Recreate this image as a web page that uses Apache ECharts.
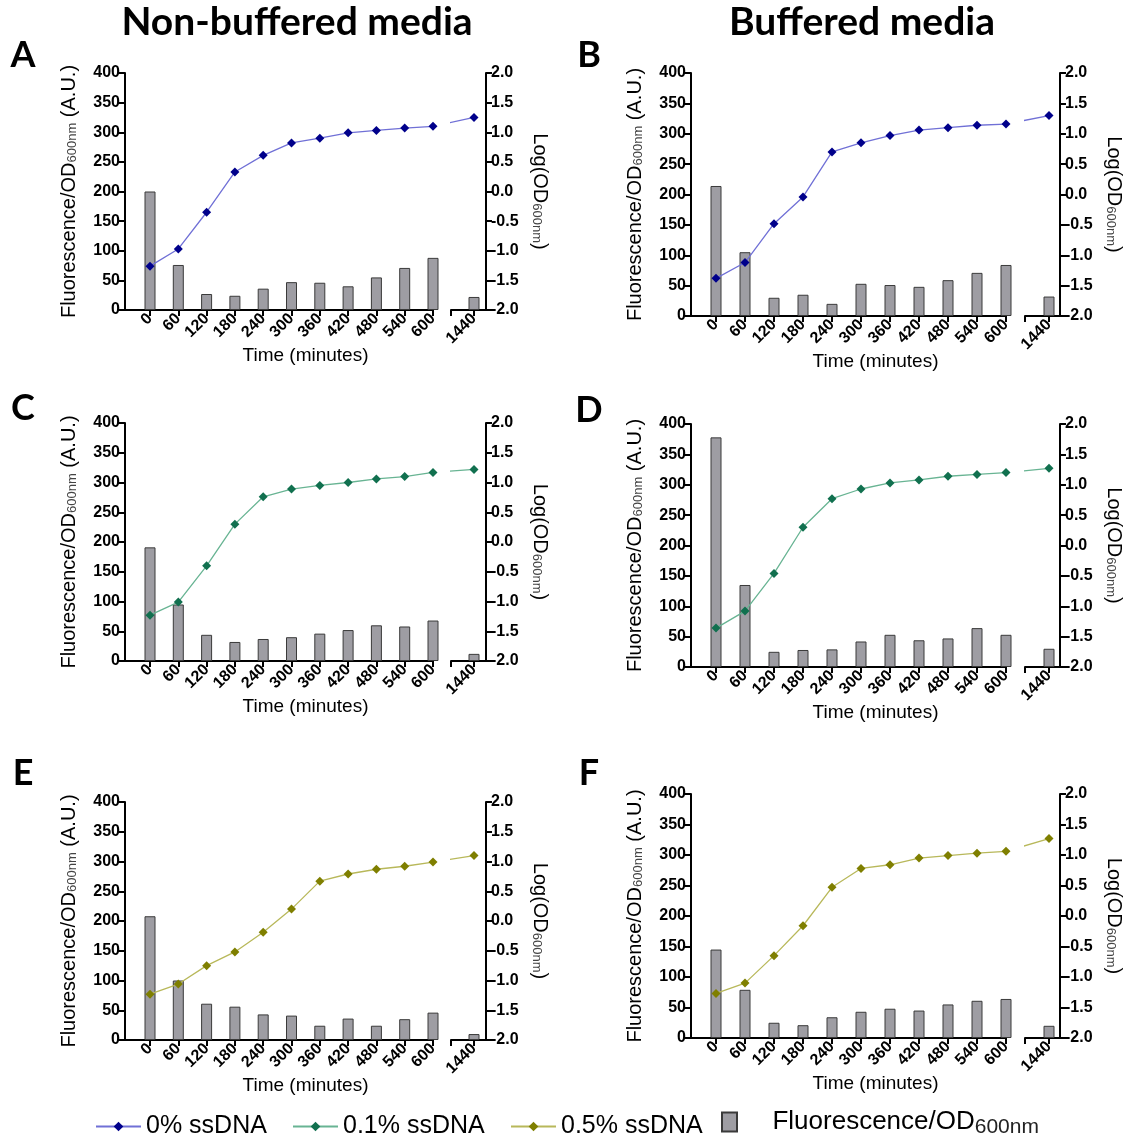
<!DOCTYPE html>
<html>
<head>
<meta charset="utf-8">
<script src="https://cdn.jsdelivr.net/npm/echarts@6/dist/echarts.min.js"></script>
<style>
html, body { margin: 0; padding: 0; background: #fff; }
#chart { width: 1128px; height: 1139px; }
</style>
</head>
<body>
<div id="chart"></div>
<script>
// Sampling times (minutes); the 1440 min point sits past an axis break
const times = [0, 60, 120, 180, 240, 300, 360, 420, 480, 540, 600];
const lateTime = 1440;

// Fluorescence/OD600nm (A.U.), 0..600 min then 1440 min
const fluorA = [200, 76, 27, 24, 36, 47, 46, 40, 55, 71, 88, 22];
const fluorB = [214, 105, 30, 35, 20, 53, 51, 48, 59, 71, 84, 32];
const fluorC = [191, 95, 44, 32, 37, 40, 46, 52, 60, 58, 68, 12];
const fluorD = [378, 135, 25, 28, 29, 42, 53, 44, 47, 64, 53, 30];
const fluorE = [208, 100, 61, 56, 43, 41, 24, 36, 24, 35, 46, 10];
const fluorF = [145, 79, 25, 21, 34, 43, 48, 45, 55, 61, 64, 20];

// Log(OD600nm), same time points
const logOdA = [-1.26, -0.97, -0.35, 0.33, 0.61, 0.82, 0.90, 0.99, 1.03, 1.07, 1.10, 1.25];
const logOdB = [-1.38, -1.12, -0.48, -0.04, 0.70, 0.85, 0.97, 1.06, 1.10, 1.14, 1.16, 1.30];
const logOdC = [-1.23, -1.01, -0.40, 0.30, 0.76, 0.89, 0.95, 1.00, 1.06, 1.10, 1.17, 1.22];
const logOdD = [-1.36, -1.08, -0.46, 0.30, 0.77, 0.93, 1.03, 1.08, 1.14, 1.17, 1.20, 1.27];
const logOdE = [-1.23, -1.06, -0.75, -0.52, -0.19, 0.20, 0.67, 0.79, 0.87, 0.92, 0.99, 1.10];
const logOdF = [-1.27, -1.10, -0.65, -0.16, 0.47, 0.78, 0.84, 0.95, 0.99, 1.03, 1.06, 1.27];

// Axis ticks
const fluorTicks = { min: 0, max: 400, step: 50 };
const logTicks = { min: -2, max: 2, step: 0.5 };

// Text
const columnTitles = ['Non-buffered media', 'Buffered media'];
const seriesNames = ['0% ssDNA', '0.1% ssDNA', '0.5% ssDNA'];
const barName = 'Fluorescence/OD600nm';
const timeTitle = 'Time (minutes)';

// Styles
const FONT = '"Liberation Sans", Arial, sans-serif';
const lineColors = {
  '0% ssDNA':   { marker: '#00008b', line: '#7070d6' },
  '0.1% ssDNA': { marker: '#11704f', line: '#68b493' },
  '0.5% ssDNA': { marker: '#7f7f00', line: '#b8b85a' }
};
const barFill = '#9e9da3';
const barEdge = '#3a3a3a';

// Panel layout (pixels): left/right axis, plot top/bottom, x of 0 and 600 min,
// start of the broken segment, x of 1440 min
const leftCol  = { left: 125, right: 486, x0: 150, x600: 433, brk: 451, xLate: 474 };
const rightCol = { left: 691, right: 1060, x0: 716, x600: 1006, brk: 1025, xLate: 1049 };
const panels = [
  { letter: 'A', fluor: fluorA, logOd: logOdA, name: seriesNames[0], col: leftCol,  top: 73,  bottom: 310, letterY: 55 },
  { letter: 'B', fluor: fluorB, logOd: logOdB, name: seriesNames[0], col: rightCol, top: 73,  bottom: 316, letterY: 55 },
  { letter: 'C', fluor: fluorC, logOd: logOdC, name: seriesNames[1], col: leftCol,  top: 423, bottom: 661, letterY: 408 },
  { letter: 'D', fluor: fluorD, logOd: logOdD, name: seriesNames[1], col: rightCol, top: 424, bottom: 667, letterY: 410 },
  { letter: 'E', fluor: fluorE, logOd: logOdE, name: seriesNames[2], col: leftCol,  top: 802, bottom: 1040, letterY: 773 },
  { letter: 'F', fluor: fluorF, logOd: logOdF, name: seriesNames[2], col: rightCol, top: 794, bottom: 1038, letterY: 773 }
];

const black = '#000';
const axisLine = { show: true, onZero: false, lineStyle: { color: black, width: 2 } };
const tickStyle = { color: black, width: 2 };
const tickLabel = { color: black, fontFamily: FONT, fontWeight: 'bold', fontSize: 16 };
const plain = v => String(v);
const subRich = {
  sub: { fontFamily: FONT, fontSize: 13, color: '#444', verticalAlign: 'bottom', padding: [7, 0, 0, 0] }
};

const grids = [], xAxes = [], yAxes = [], series = [], graphics = [];

panels.forEach((p, i) => {
  const c = p.col;
  const pxPerMin = (c.x600 - c.x0) / 600;
  const mainMin = -(c.x0 - c.left) / pxPerMin;
  const brkMin = lateTime - (c.xLate - c.brk) / pxPerMin;
  const brkMax = lateTime + (c.right - c.xLate) / pxPerMin;
  // where the 600 min point sits in the broken segment's own scale
  const bridgeX = lateTime - (c.xLate - c.x600) / pxPerMin;
  const height = p.bottom - p.top;
  const gMain = grids.length;
  grids.push({ left: c.left, top: p.top, width: c.x600 - c.left, height: height });
  const gBrk = grids.length;
  grids.push({ left: c.brk, top: p.top, width: c.right - c.brk, height: height });

  // x axes: main segment, its end marker, broken segment, its start marker
  const xMain = xAxes.length;
  xAxes.push({
    gridIndex: gMain, type: 'value', min: mainMin, max: 600,
    axisLine: axisLine,
    axisTick: { show: true, customValues: times, length: 6, lineStyle: tickStyle },
    axisLabel: Object.assign({ customValues: times, rotate: 45, margin: 6, formatter: plain }, tickLabel),
    splitLine: { show: false }
  });
  xAxes.push({
    gridIndex: gMain, type: 'value', min: mainMin, max: 600,
    axisLine: { show: false },
    axisTick: { show: true, inside: true, customValues: [600], length: 6, lineStyle: tickStyle },
    axisLabel: { show: false }, splitLine: { show: false }
  });
  const xBrk = xAxes.length;
  xAxes.push({
    gridIndex: gBrk, type: 'value', min: brkMin, max: brkMax,
    axisLine: axisLine,
    axisTick: { show: true, customValues: [brkMin, lateTime], length: 6, lineStyle: tickStyle },
    axisLabel: Object.assign({ customValues: [lateTime], rotate: 45, margin: 6, formatter: plain }, tickLabel),
    splitLine: { show: false }
  });
  xAxes.push({
    gridIndex: gBrk, type: 'value', min: brkMin, max: brkMax,
    axisLine: { show: false },
    axisTick: { show: true, inside: true, customValues: [brkMin], length: 6, lineStyle: tickStyle },
    axisLabel: { show: false }, splitLine: { show: false }
  });

  // y axes
  const yMainL = yAxes.length;
  yAxes.push({
    gridIndex: gMain, type: 'value', position: 'left',
    min: fluorTicks.min, max: fluorTicks.max, interval: fluorTicks.step,
    axisLine: axisLine,
    axisTick: { show: true, length: 6, lineStyle: tickStyle },
    axisLabel: Object.assign({ margin: 5 }, tickLabel),
    splitLine: { show: false },
    name: 'Fluorescence/OD{sub|600nm} (A.U.)',
    nameLocation: 'middle', nameRotate: 90, nameGap: 46,
    nameTextStyle: { fontFamily: FONT, fontSize: 20, color: black, rich: subRich }
  });
  const yMainR = yAxes.length;
  yAxes.push({ gridIndex: gMain, type: 'value', position: 'right', show: false,
    min: logTicks.min, max: logTicks.max, splitLine: { show: false } });
  const yBrkL = yAxes.length;
  yAxes.push({ gridIndex: gBrk, type: 'value', position: 'left', show: false,
    min: fluorTicks.min, max: fluorTicks.max, splitLine: { show: false } });
  const yBrkR = yAxes.length;
  yAxes.push({
    gridIndex: gBrk, type: 'value', position: 'right',
    min: logTicks.min, max: logTicks.max, interval: logTicks.step,
    axisLine: axisLine,
    axisTick: { show: true, length: 6, lineStyle: tickStyle },
    axisLabel: Object.assign({ margin: 5, formatter: v => v.toFixed(1) }, tickLabel),
    splitLine: { show: false },
    name: 'Log(OD{sub|600nm})',
    nameLocation: 'middle', nameRotate: -90, nameGap: 44,
    nameTextStyle: { fontFamily: FONT, fontSize: 20, color: black, rich: subRich }
  });

  const barStyle = { color: barFill, borderColor: barEdge, borderWidth: 1 };
  const lc = lineColors[p.name];
  const lineCommon = {
    type: 'line', name: p.name, symbol: 'diamond', symbolSize: 9,
    lineStyle: { color: lc.line, width: 1.3 },
    itemStyle: { color: lc.marker },
    z: 5, silent: true
  };

  series.push({
    type: 'bar', name: barName, xAxisIndex: xMain, yAxisIndex: yMainL,
    data: times.map((t, k) => [t, p.fluor[k]]),
    barWidth: 11, clip: false, itemStyle: barStyle, silent: true
  });
  series.push({
    type: 'bar', name: barName, xAxisIndex: xBrk, yAxisIndex: yBrkL,
    data: [[lateTime, p.fluor[times.length]]],
    barWidth: 11, clip: false, itemStyle: barStyle, silent: true
  });
  series.push(Object.assign({}, lineCommon, {
    xAxisIndex: xMain, yAxisIndex: yMainR,
    data: times.map((t, k) => [t, p.logOd[k]])
  }));
  series.push(Object.assign({}, lineCommon, {
    xAxisIndex: xBrk, yAxisIndex: yBrkR, clip: true,
    data: [
      { value: [bridgeX, p.logOd[times.length - 1]], symbol: 'none' },
      [lateTime, p.logOd[times.length]]
    ]
  }));

  graphics.push({
    type: 'text', x: c.left - 102, y: p.letterY,
    style: { text: p.letter, font: 'bold 36px Lato, "Liberation Sans", sans-serif', fill: black,
      textAlign: 'center', textVerticalAlign: 'middle' }
  });
  graphics.push({
    type: 'text', x: (c.left + c.right) / 2, y: p.bottom + 46,
    style: { text: timeTitle, font: '19px ' + FONT, fill: black,
      textAlign: 'center', textVerticalAlign: 'middle' }
  });
});

columnTitles.forEach((t, i) => {
  graphics.push({
    type: 'text', x: i === 0 ? 297 : 862, y: 22,
    style: { text: t, font: 'bold 39px Lato, "Liberation Sans", sans-serif', fill: black,
      textAlign: 'center', textVerticalAlign: 'middle' }
  });
});

const legendText = { fontFamily: FONT, fontSize: 25, color: black };
const legendBase = { orient: 'horizontal', padding: 0, selectedMode: false, textStyle: legendText };
const legends = [
  Object.assign({ data: [seriesNames[0]], left: 95, top: 1114, itemWidth: 45, itemHeight: 12 }, legendBase),
  Object.assign({ data: [seriesNames[1]], left: 292, top: 1114, itemWidth: 45, itemHeight: 12 }, legendBase),
  Object.assign({ data: [seriesNames[2]], left: 510, top: 1114, itemWidth: 45, itemHeight: 12 }, legendBase),
  Object.assign({
    data: [{ name: barName, icon: 'path://M0,0H15V19H0Z' }], left: 721, top: 1109,
    itemWidth: 47, itemHeight: 19,
    formatter: () => '  Fluorescence/OD{sub|600nm}'
  }, legendBase, {
    textStyle: {
      fontFamily: FONT, fontSize: 26, color: black,
      rich: {
        sub: { fontFamily: FONT, fontSize: 21, color: '#222', verticalAlign: 'bottom', padding: [10, 0, 0, 0] }
      }
    }
  })
];

const chart = echarts.init(document.getElementById('chart'));
chart.setOption({
  animation: false,
  backgroundColor: '#fff',
  grid: grids,
  xAxis: xAxes,
  yAxis: yAxes,
  legend: legends,
  series: series,
  graphic: graphics
});
</script>
</body>
</html>
